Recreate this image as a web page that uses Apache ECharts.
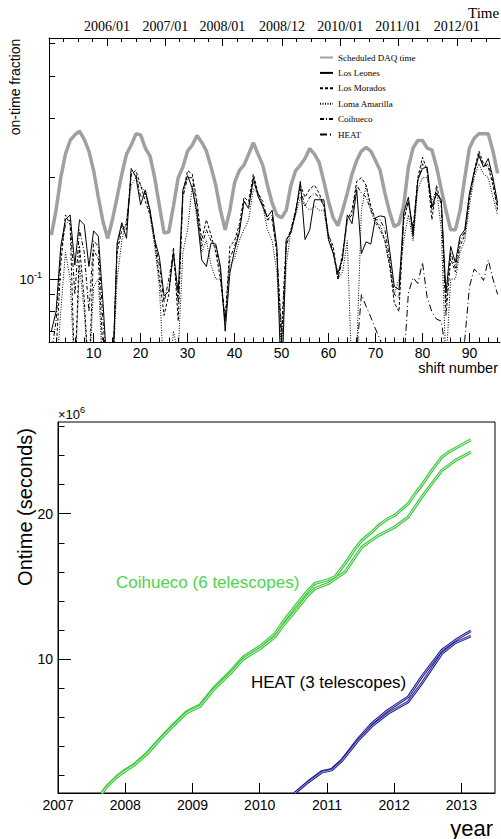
<!DOCTYPE html>
<html><head><meta charset="utf-8">
<script src="https://cdn.jsdelivr.net/npm/echarts@6/dist/echarts.min.js"></script>
<style>html,body{margin:0;padding:0;background:#fff}#c{width:501px;height:839px}</style>
</head><body><div id="c"></div><script>
// ---------- top panel: on-time fraction per shift ----------
const shiftNumbers = Array.from({length: 96}, (_, i) => i + 1);
const shiftTickLabels = [10, 20, 30, 40, 50, 60, 70, 80, 90];
const timeLabels = ['2006/01', '2007/01', '2008/01', '2008/12', '2010/01', '2011/01', '2012/01'];
const timeLabelShifts = [12.85, 25.26, 37.4, 50.1, 62.5, 74.8, 87.3];

const scheduled = [0.135,0.16,0.20,0.235,0.258,0.268,0.275,0.26,0.24,0.21,0.175,0.148,0.132,0.15,0.175,0.205,0.235,0.25,0.27,0.268,
  0.245,0.232,0.20,0.165,0.137,0.138,0.165,0.20,0.215,0.24,0.25,0.267,0.255,0.24,0.215,0.19,0.16,0.14,0.16,0.193,
  0.21,0.218,0.235,0.254,0.235,0.218,0.19,0.168,0.155,0.152,0.16,0.19,0.21,0.218,0.228,0.244,0.235,0.222,0.195,0.17,
  0.152,0.144,0.16,0.18,0.205,0.225,0.24,0.246,0.24,0.225,0.21,0.18,0.158,0.143,0.146,0.165,0.215,0.245,0.258,0.258,
  0.245,0.242,0.215,0.185,0.16,0.14,0.14,0.16,0.2,0.245,0.262,0.27,0.27,0.27,0.24,0.206];
const losLeones = [0.070,0.080,0.125,0.150,0.155,0.110,0.150,0.145,0.109,0.139,0.134,0.085,0.050,0.050,0.128,0.147,0.132,0.213,0.201,0.166,
  0.184,0.160,0.131,0.116,0.089,0.092,0.119,0.091,0.184,0.203,0.186,0.157,0.114,0.109,0.128,0.127,0.109,0.070,0.104,0.122,
  0.137,0.170,0.162,0.200,0.176,0.164,0.153,0.160,0.125,0.045,0.131,0.137,0.157,0.195,0.131,0.140,0.172,0.172,0.172,0.131,
  0.119,0.104,0.116,0.155,0.146,0.184,0.119,0.129,0.127,0.152,0.154,0.153,0.122,0.095,0.093,0.157,0.175,0.134,0.197,0.213,
  0.215,0.164,0.180,0.172,0.091,0.125,0.112,0.134,0.140,0.180,0.208,0.233,0.215,0.228,0.200,0.168];
const losMorados = [0.05,0.06,0.11,0.155,0.145,0.05,0.125,0.087,0.05,0.122,0.115,0.06,0.05,0.05,0.12,0.14,0.145,0.205,0.21,0.19,
  0.17,0.155,0.13,0.1,0.078,0.09,0.124,0.075,0.18,0.21,0.205,0.17,0.13,0.15,0.135,0.12,0.10,0.075,0.125,0.13,
  0.145,0.175,0.17,0.205,0.18,0.17,0.15,0.15,0.12,0.07,0.13,0.14,0.16,0.19,0.175,0.185,0.19,0.18,0.165,0.135,
  0.125,0.1,0.12,0.15,0.16,0.195,0.2,0.19,0.165,0.15,0.14,0.13,0.11,0.085,0.08,0.15,0.17,0.14,0.2,0.23,
  0.21,0.15,0.19,0.165,0.078,0.115,0.105,0.125,0.135,0.175,0.21,0.24,0.22,0.215,0.19,0.16];
const lomaAmarilla = [0.05,0.05,0.08,0.12,0.1,0.05,0.11,0.08,0.05,0.095,0.1,0.05,0.05,0.05,0.1,0.13,0.15,0.19,0.2,0.19,
  0.18,0.155,0.125,0.095,0.05,0.05,0.07,0.06,0.12,0.14,0.19,0.15,0.12,0.13,0.11,0.1,0.1,0.075,0.11,0.115,
  0.13,0.14,0.15,0.185,0.18,0.165,0.14,0.13,0.105,0.06,0.11,0.14,0.155,0.175,0.165,0.16,0.165,0.16,0.16,0.13,
  0.12,0.1,0.105,0.13,0.05,0.06,0.16,0.19,0.16,0.145,0.145,0.13,0.11,0.09,0.1,0.13,0.155,0.13,0.185,0.2,
  0.2,0.17,0.185,0.14,0.055,0.1,0.1,0.12,0.13,0.165,0.2,0.22,0.205,0.2,0.175,0.155];
const coihueco = [0.06,0.075,0.12,0.145,0.15,0.09,0.14,0.12,0.08,0.13,0.125,0.075,0.05,0.05,0.125,0.145,0.14,0.205,0.205,0.175,
  0.18,0.16,0.13,0.11,0.085,0.1,0.12,0.085,0.175,0.2,0.2,0.165,0.125,0.14,0.13,0.125,0.105,0.075,0.115,0.125,
  0.14,0.17,0.165,0.195,0.18,0.165,0.15,0.155,0.12,0.065,0.125,0.14,0.16,0.185,0.165,0.175,0.18,0.175,0.165,0.135,
  0.12,0.1,0.115,0.15,0.155,0.19,0.18,0.175,0.16,0.15,0.15,0.14,0.115,0.09,0.088,0.15,0.17,0.14,0.195,0.22,
  0.21,0.16,0.18,0.17,0.085,0.12,0.108,0.13,0.138,0.175,0.205,0.235,0.215,0.22,0.195,0.165];
const heat = Array(64).fill(null).concat([0.03,0.06,0.09,0.083,0.077,0.071,0.066,0.06,0.055,0.05,0.05,0.055,0.091,0.101,0.097,0.112,
  0.088,0.08,0.076,0.075,0.06,0.05,0.05,0.055,0.066,0.095,0.107,0.104,0.099,0.114,0.1,0.09]);

// ---------- bottom panel: cumulative ontime [year, 1e6 s] ----------
const yearTickLabels = [2007, 2008, 2009, 2010, 2011, 2012, 2013];
const ontimeTickLabels = [10, 20];
const coiUpper = [[2007.65,0.78],[2007.72,1.23],[2007.87,1.92],[2008.0,2.38],[2008.12,2.72],[2008.32,3.53],[2008.52,4.56],[2008.71,5.47],
  [2008.91,6.38],[2009.01,6.62],[2009.11,6.84],[2009.31,7.99],[2009.56,9.13],[2009.76,10.16],[2010.03,10.96],[2010.23,11.76],
  [2010.33,12.45],[2010.52,13.59],[2010.72,14.74],[2010.82,15.2],[2011.02,15.47],[2011.12,15.65],[2011.27,16.57],[2011.42,17.6],
  [2011.52,18.17],[2011.67,18.74],[2011.77,19.2],[2011.91,19.66],[2012.01,19.88],[2012.21,20.69],[2012.31,21.37],[2012.41,21.94],
  [2012.56,22.97],[2012.71,23.88],[2012.81,24.23],[2012.96,24.62],[2013.14,25.08]];
const coiLower = [[2007.65,0.78],[2007.72,1.2],[2007.87,1.88],[2008.0,2.33],[2008.12,2.67],[2008.32,3.47],[2008.52,4.5],[2008.71,5.4],
  [2008.91,6.3],[2009.01,6.53],[2009.11,6.75],[2009.31,7.88],[2009.56,9.0],[2009.76,10.02],[2010.03,10.8],[2010.23,11.55],
  [2010.33,12.2],[2010.52,13.25],[2010.72,14.4],[2010.82,14.85],[2011.02,15.2],[2011.27,15.99],[2011.52,17.71],[2011.77,18.51],
  [2012.01,19.08],[2012.21,19.77],[2012.41,21.14],[2012.71,22.97],[2012.91,23.66],[2013.14,24.23]];
const heatUpper = [[2010.52,0.78],[2010.72,1.58],[2010.92,2.27],[2011.07,2.43],[2011.22,3.07],[2011.47,4.56],[2011.67,5.59],
  [2011.91,6.5],[2012.21,7.41],[2012.41,8.79],[2012.71,10.62],[2012.91,11.3],[2013.14,11.94]];
const heatLower = [[2010.52,0.78],[2010.72,1.55],[2010.92,2.22],[2011.07,2.38],[2011.22,3.0],[2011.47,4.45],[2011.67,5.4],
  [2011.91,6.27],[2012.21,7.07],[2012.41,8.33],[2012.71,10.39],[2012.91,11.12],[2013.14,11.58]];

const sans = '"Liberation Sans", Arial, sans-serif';
const serif = '"Liberation Serif", "Times New Roman", serif';
const toPairs = arr => shiftNumbers.map((s, i) => [s, arr[i]]);

// minor ticks (quarters) for time axis
const timeMinor = [];
const step0 = (timeLabelShifts[1] - timeLabelShifts[0]) / 4;
for (let k = 1; k <= 3; k++) timeMinor.push(timeLabelShifts[0] - k * step0);
for (let i = 0; i < timeLabelShifts.length - 1; i++) {
  const st = (timeLabelShifts[i + 1] - timeLabelShifts[i]) / 4;
  for (let k = 1; k <= 3; k++) timeMinor.push(timeLabelShifts[i] + k * st);
}
const stL = (timeLabelShifts[6] - timeLabelShifts[5]) / 4;
for (let k = 1; k <= 2; k++) timeMinor.push(timeLabelShifts[6] + k * stL);
const shiftMinor = [];
for (let v = 2; v <= 96; v += 2) if (v % 10 !== 0) shiftMinor.push(v);

const axLine = {show: true, lineStyle: {color: '#000', width: 1}};
const noLine = {show: false};

const chart = echarts.init(document.getElementById('c'), null, {renderer: 'svg'});
const option = {
  animation: false,
  backgroundColor: '#fff',
  grid: [
    {left: 49, top: 38, width: 451, height: 304},
    {left: 58, top: 422, width: 437, height: 371, show: true, borderColor: '#000', borderWidth: 1, backgroundColor: 'transparent'}
  ],
  legend: {
    data: ['Scheduled DAQ time', 'Los Leones', 'Los Morados', 'Loma Amarilla', 'Coihueco', 'HEAT'],
    orient: 'vertical', left: 314, top: 48, itemWidth: 13, itemHeight: 10, itemGap: 6.4,
    itemStyle: {opacity: 0},
    textStyle: {fontFamily: serif, fontSize: 9, color: '#000'}
  },
  xAxis: [
    {gridIndex: 0, type: 'value', min: 0.5, max: 96.5, position: 'bottom', axisLine: axLine, splitLine: {show: false},
     axisTick: {inside: true, length: 9, customValues: shiftTickLabels, lineStyle: {color: '#000'}},
     axisLabel: {customValues: shiftTickLabels, fontFamily: sans, fontSize: 14, color: '#000', margin: 4}},
    {gridIndex: 0, type: 'value', min: 0.5, max: 96.5, position: 'bottom', axisLine: noLine, splitLine: {show: false},
     axisTick: {inside: true, length: 4.5, customValues: shiftMinor, lineStyle: {color: '#000'}},
     axisLabel: {show: false}},
    {gridIndex: 0, type: 'value', min: 0.5, max: 96.5, position: 'top', axisLine: axLine, splitLine: {show: false},
     axisTick: {inside: true, length: 8, customValues: timeLabelShifts, lineStyle: {color: '#000'}},
     axisLabel: {customValues: timeLabelShifts, fontFamily: serif, fontSize: 14, color: '#000', margin: 5,
       formatter: v => timeLabels[timeLabelShifts.indexOf(v)] || ''}},
    {gridIndex: 0, type: 'value', min: 0.5, max: 96.5, position: 'top', axisLine: noLine, splitLine: {show: false},
     axisTick: {inside: true, length: 4, customValues: timeMinor, lineStyle: {color: '#000'}},
     axisLabel: {show: false}},
    {gridIndex: 1, type: 'value', min: 2007, max: 2013.5, position: 'bottom', axisLine: axLine, splitLine: {show: false},
     axisTick: {inside: true, length: 10, customValues: yearTickLabels.slice(1), lineStyle: {color: '#000'}},
     axisLabel: {customValues: yearTickLabels, fontFamily: sans, fontSize: 14, color: '#000', margin: 5, formatter: v => String(v)}}
  ],
  yAxis: [
    {gridIndex: 0, type: 'log', logBase: 10, min: 0.065, max: 0.52, position: 'left', axisLine: axLine, splitLine: {show: false},
     axisTick: {inside: true, length: 12, customValues: [0.1], lineStyle: {color: '#000'}},
     axisLabel: {customValues: [0.1], margin: 7, color: '#000', formatter: () => '{a|10}{b|-1}',
       rich: {a: {fontFamily: sans, fontSize: 13, color: '#000'}, b: {fontFamily: sans, fontSize: 9, color: '#000', padding: [0, 0, 8, 0]}}}},
    {gridIndex: 0, type: 'log', logBase: 10, min: 0.065, max: 0.52, position: 'left', axisLine: noLine, splitLine: {show: false},
     axisTick: {inside: true, length: 6, customValues: [0.07, 0.08, 0.09, 0.2, 0.3, 0.4, 0.5], lineStyle: {color: '#000'}},
     axisLabel: {show: false}},
    {gridIndex: 1, type: 'value', min: 0.8, max: 26.3, position: 'left', axisLine: axLine, splitLine: {show: false},
     axisTick: {inside: true, length: 13, customValues: ontimeTickLabels, lineStyle: {color: '#000'}},
     axisLabel: {customValues: ontimeTickLabels, fontFamily: sans, fontSize: 14, color: '#000', margin: 5}},
    {gridIndex: 1, type: 'value', min: 0.8, max: 26.3, position: 'left', axisLine: noLine, splitLine: {show: false},
     axisTick: {inside: true, length: 6.5, customValues: [2, 4, 6, 8, 12, 14, 16, 18, 22, 24, 26], lineStyle: {color: '#000'}},
     axisLabel: {show: false}}
  ],
  series: [
    {name: 'Scheduled DAQ time', type: 'line', xAxisIndex: 0, yAxisIndex: 0, data: toPairs(scheduled), symbol: 'none',
     lineStyle: {color: '#a0a0a0', width: 3.5}, itemStyle: {color: '#a0a0a0'}},
    {name: 'Los Leones', type: 'line', xAxisIndex: 0, yAxisIndex: 0, data: toPairs(losLeones), symbol: 'none',
     lineStyle: {color: '#000', width: 1}, itemStyle: {color: '#000'}},
    {name: 'Los Morados', type: 'line', xAxisIndex: 0, yAxisIndex: 0, data: toPairs(losMorados), symbol: 'none',
     lineStyle: {color: '#000', width: 1, type: [3, 2]}, itemStyle: {color: '#000'}},
    {name: 'Loma Amarilla', type: 'line', xAxisIndex: 0, yAxisIndex: 0, data: toPairs(lomaAmarilla), symbol: 'none',
     lineStyle: {color: '#000', width: 1, type: [1, 1.5]}, itemStyle: {color: '#000'}},
    {name: 'Coihueco', type: 'line', xAxisIndex: 0, yAxisIndex: 0, data: toPairs(coihueco), symbol: 'none',
     lineStyle: {color: '#000', width: 1, type: [4, 2, 1, 2]}, itemStyle: {color: '#000'}},
    {name: 'HEAT', type: 'line', xAxisIndex: 0, yAxisIndex: 0, data: toPairs(heat), symbol: 'none',
     lineStyle: {color: '#000', width: 1, type: [7, 3, 1, 3]}, itemStyle: {color: '#000'}},
    // bottom panel: hollow double lines
    {name: 'coiU', type: 'line', xAxisIndex: 4, yAxisIndex: 2, data: coiUpper, symbol: 'none', lineStyle: {color: '#3cc83c', width: 3}},
    {name: 'coiU2', type: 'line', xAxisIndex: 4, yAxisIndex: 2, data: coiUpper, symbol: 'none', lineStyle: {color: '#d8f5d8', width: 1}},
    {name: 'coiL', type: 'line', xAxisIndex: 4, yAxisIndex: 2, data: coiLower, symbol: 'none', lineStyle: {color: '#3cc83c', width: 3}},
    {name: 'coiL2', type: 'line', xAxisIndex: 4, yAxisIndex: 2, data: coiLower, symbol: 'none', lineStyle: {color: '#d8f5d8', width: 1}},
    {name: 'heatU', type: 'line', xAxisIndex: 4, yAxisIndex: 2, data: heatUpper, symbol: 'none', lineStyle: {color: '#1a1a8c', width: 2.6}},
    {name: 'heatU2', type: 'line', xAxisIndex: 4, yAxisIndex: 2, data: heatUpper, symbol: 'none', lineStyle: {color: '#d0d0f0', width: 0.8}},
    {name: 'heatL', type: 'line', xAxisIndex: 4, yAxisIndex: 2, data: heatLower, symbol: 'none', lineStyle: {color: '#1a1a8c', width: 2.6}},
    {name: 'heatL2', type: 'line', xAxisIndex: 4, yAxisIndex: 2, data: heatLower, symbol: 'none', lineStyle: {color: '#d0d0f0', width: 0.8}}
  ],
  graphic: [
    {type: 'text', x: 468, y: 13, style: {text: 'Time', fontFamily: serif, fontSize: 15, fill: '#000', align: 'left', verticalAlign: 'middle', textAlign: 'left', textVerticalAlign: 'middle'}},
    {type: 'text', x: 15, y: 87, rotation: Math.PI / 2, style: {text: 'on-time fraction', fontFamily: sans, fontSize: 14, fill: '#000', align: 'center', verticalAlign: 'middle', textAlign: 'center', textVerticalAlign: 'middle'}},
    {type: 'text', x: 498, y: 368, style: {text: 'shift number', fontFamily: sans, fontSize: 14.5, fill: '#000', align: 'right', verticalAlign: 'middle', textAlign: 'right', textVerticalAlign: 'middle'}},
    {type: 'text', x: 58, y: 414, style: {text: '{a|×10}{b|6}', rich: {a: {fontFamily: sans, fontSize: 13, fill: '#000'}, b: {fontFamily: sans, fontSize: 9, fill: '#000', padding: [0, 0, 8, 0]}}, align: 'left', verticalAlign: 'middle', textAlign: 'left', textVerticalAlign: 'middle'}},
    {type: 'text', x: 25, y: 507, rotation: Math.PI / 2, style: {text: 'Ontime (seconds)', fontFamily: sans, fontSize: 20, fill: '#000', align: 'center', verticalAlign: 'middle', textAlign: 'center', textVerticalAlign: 'middle'}},
    {type: 'text', x: 493, y: 828, style: {text: 'year', fontFamily: sans, fontSize: 22, fill: '#000', align: 'right', verticalAlign: 'middle', textAlign: 'right', textVerticalAlign: 'middle'}},
    {type: 'text', x: 116, y: 582, style: {text: 'Coihueco (6 telescopes)', fontFamily: sans, fontSize: 17, fill: '#4fd34f', align: 'left', verticalAlign: 'middle', textAlign: 'left', textVerticalAlign: 'middle'}},
    {type: 'text', x: 251, y: 682, style: {text: 'HEAT (3 telescopes)', fontFamily: sans, fontSize: 17, fill: '#000', align: 'left', verticalAlign: 'middle', textAlign: 'left', textVerticalAlign: 'middle'}}
  ]
};
chart.setOption(option);
</script></body></html>
